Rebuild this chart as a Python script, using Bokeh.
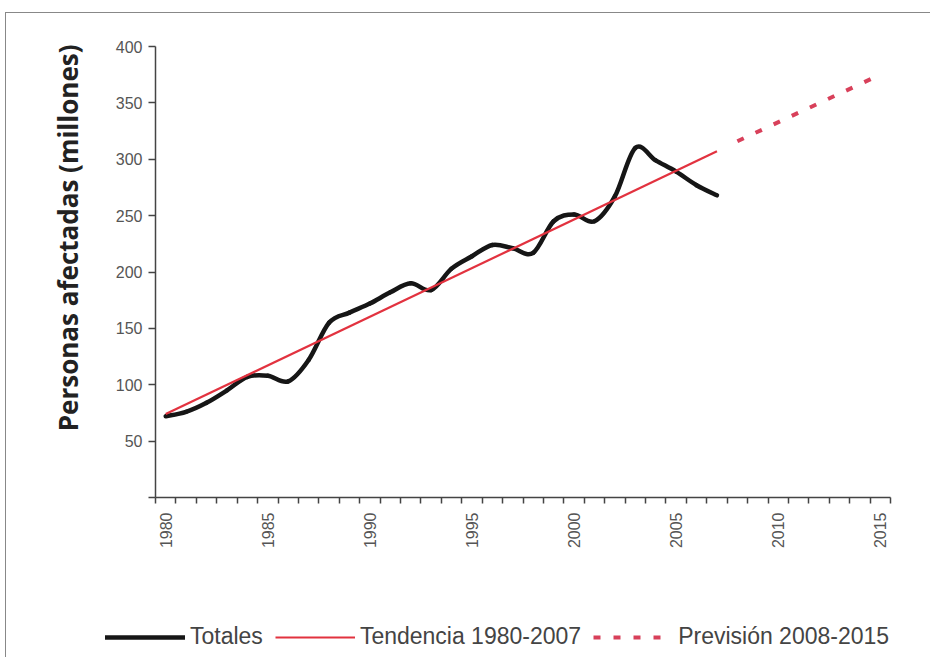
import math
import numpy as np
from bokeh.plotting import figure
from bokeh.layouts import column
from bokeh.models import Range1d, FixedTicker, Legend, LegendItem, Title
from bokeh.embed import file_html
from bokeh.resources import INLINE

# ---- data ----
years = list(range(1980, 2008))
totales = [72, 76, 84, 95, 107, 108, 103, 122, 155, 164, 172, 182, 190, 184,
           203, 214, 224, 221, 217, 245, 251, 245, 267, 310, 299, 289, 277, 268]
trend_years = [1980, 2007]
trend_values = [74, 307]
forecast_years = [2008, 2015]
forecast_values = [316, 375]
y_ticks = [0, 50, 100, 150, 200, 250, 300, 350, 400]
x_label_years = [1980, 1985, 1990, 1995, 2000, 2005, 2010, 2015]
axis_years = list(range(1980, 2016))
series_labels = ["Totales", "Tendencia 1980-2007", "Previsión 2008-2015"]

TICK_FONT = "Liberation Sans"
STYLE_TOT = dict(line_color="#161616", line_width=4.5, line_join="round", line_cap="round")
STYLE_TREND = dict(line_color="#e2323f", line_width=2.2)
STYLE_FC = dict(line_color="#d8405a", line_width=4, line_dash="7 13")

p = figure(
    output_backend="svg", toolbar_location=None,
    frame_width=735, frame_height=451,
    min_border_left=149, min_border_top=33, min_border_right=40, min_border_bottom=60,
    x_range=Range1d(axis_years[0] - 0.5, axis_years[-1] + 0.5),
    y_range=Range1d(0, 400),
    background_fill_color="white", border_fill_color="white",
)
p.frame_align = False
p.outline_line_color = None
p.grid.visible = False

# smoothed "Totales" curve (Catmull-Rom style Bezier segments through the yearly values)
xs = np.array(years, dtype=float)
ys = np.array(totales, dtype=float)
xp = np.concatenate([[xs[0]], xs, [xs[-1]]])
yp = np.concatenate([[ys[0]], ys, [ys[-1]]])
sx0, sy0 = xs[:-1], ys[:-1]
sx1, sy1 = xs[1:], ys[1:]
cx0 = sx0 + (sx1 - xp[:-3]) / 6.0
cy0 = sy0 + (sy1 - yp[:-3]) / 6.0
cx1 = sx1 - (xp[3:] - sx0) / 6.0
cy1 = sy1 - (yp[3:] - sy0) / 6.0
p.bezier(x0=sx0, y0=sy0, x1=sx1, y1=sy1, cx0=cx0, cy0=cy0, cx1=cx1, cy1=cy1, **STYLE_TOT)

p.line(trend_years, trend_values, **STYLE_TREND)
p.line(forecast_years, forecast_values, **STYLE_FC)

# x axis: category-style ticks at year boundaries, labels at year centres
xa = p.xaxis[0]
xa.ticker = FixedTicker(ticks=x_label_years,
                        minor_ticks=[y - 0.5 for y in axis_years + [axis_years[-1] + 1]])
xa.major_tick_out = 0
xa.major_tick_in = 0
xa.minor_tick_out = 6
xa.minor_tick_in = 0
xa.minor_tick_line_color = "#444"
xa.minor_tick_line_width = 1.5
xa.axis_line_color = "#444"
xa.axis_line_width = 1.5
xa.major_label_orientation = math.pi / 2
xa.major_label_standoff = 9
xa.major_label_text_font = TICK_FONT
xa.major_label_text_font_size = "16px"
xa.major_label_text_color = "#555"

ya = p.yaxis[0]
ya.ticker = FixedTicker(ticks=y_ticks)
ya.major_label_overrides = {0: ""}
ya.major_tick_out = 7
ya.major_tick_in = 0
ya.minor_tick_out = 0
ya.minor_tick_in = 0
ya.major_tick_line_color = "#444"
ya.major_tick_line_width = 1.5
ya.axis_line_color = "#444"
ya.axis_line_width = 1.5
ya.major_label_standoff = 6
ya.major_label_text_font = TICK_FONT
ya.major_label_text_font_size = "16px"
ya.major_label_text_color = "#555"

ytitle = Title(text="Personas afectadas (millones)", align="right", offset=-2,
               text_font="Open Sans", text_font_style="bold",
               text_font_size="26px", text_color="#222", standoff=53)
p.add_layout(ytitle, "left")

# legend strip below the chart (its renderers carry the series but stay hidden)
lg = figure(
    output_backend="svg", toolbar_location=None,
    width=924, height=100, min_border=0,
    x_axis_location=None, y_axis_location=None,
    x_range=Range1d(axis_years[0] - 0.5, axis_years[-1] + 0.5),
    y_range=Range1d(0, 400),
    background_fill_color="white", border_fill_color="white",
)
lg.frame_align = False
lg.outline_line_color = None
lg.grid.visible = False
k_tot = lg.line(years, totales, visible=False, **STYLE_TOT)
k_trend = lg.line(trend_years, trend_values, visible=False, **STYLE_TREND)
k_fc = lg.line(forecast_years, forecast_values, visible=False, **STYLE_FC)

legend = Legend(
    items=[LegendItem(label=series_labels[0], renderers=[k_tot]),
           LegendItem(label=series_labels[1], renderers=[k_trend]),
           LegendItem(label=series_labels[2], renderers=[k_fc])],
    orientation="horizontal", location=(95, 3),
    glyph_width=80, glyph_height=24, label_standoff=5, spacing=12,
    padding=4, margin=0, inactive_fill_alpha=0,
    label_text_font=TICK_FONT, label_text_font_size="23px", label_text_color="#444",
    border_line_alpha=0, background_fill_alpha=0,
)
lg.add_layout(legend, "center")

page = column(p, lg, spacing=0,
              styles={"border-top": "1px solid #888", "border-left": "1px solid #888",
                      "margin-top": "12px", "margin-left": "5px"})

open("out.html", "w").write(file_html(page, INLINE))
